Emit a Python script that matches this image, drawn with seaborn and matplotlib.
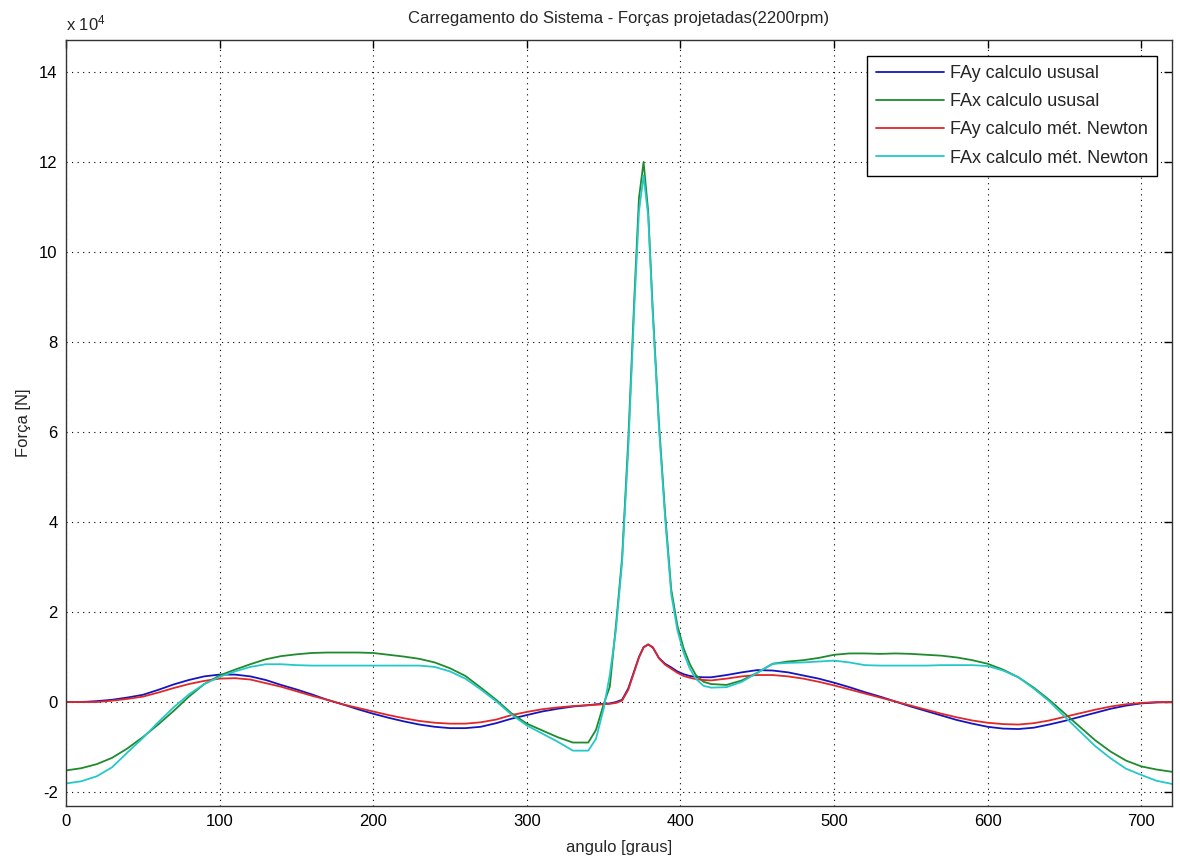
import matplotlib
matplotlib.use("Agg")
import matplotlib.pyplot as plt
import seaborn as sns
import pandas as pd
import numpy as np

# ---- data (forces in units of 1e4 N) ----
angle = [0, 10, 20, 30, 40, 50, 60, 70, 80, 90, 100, 110, 120, 130, 140, 150, 160, 170, 180, 190,
         200, 210, 220, 230, 240, 250, 260, 270, 280, 290, 300, 310, 320, 330, 340, 345, 350, 354,
         358, 362, 366, 370, 373, 376, 379, 382, 386, 390, 394, 398, 402, 406, 410, 415, 420, 430,
         440, 450, 460, 470, 480, 490, 500, 510, 520, 530, 540, 550, 560, 570, 580, 590, 600, 610,
         620, 630, 640, 650, 660, 670, 680, 690, 700, 710, 720]

fay_usual = [0.0, 0.0, 0.02, 0.05, 0.10, 0.16, 0.27, 0.39, 0.49, 0.57, 0.61, 0.61, 0.57, 0.49, 0.38,
             0.28, 0.17, 0.05, -0.05, -0.16, -0.26, -0.35, -0.43, -0.50, -0.55, -0.58, -0.58, -0.55,
             -0.47, -0.37, -0.29, -0.21, -0.15, -0.10, -0.07, -0.05, -0.04, -0.03, 0.0, 0.05, 0.30,
             0.70, 1.00, 1.22, 1.28, 1.21, 0.98, 0.85, 0.77, 0.68, 0.62, 0.58, 0.56, 0.55, 0.55, 0.60,
             0.66, 0.71, 0.70, 0.66, 0.59, 0.52, 0.43, 0.33, 0.22, 0.12, 0.01, -0.10, -0.20, -0.30,
             -0.40, -0.48, -0.55, -0.59, -0.60, -0.57, -0.50, -0.42, -0.33, -0.24, -0.15, -0.08,
             -0.03, -0.01, 0.0]

fax_usual = [-1.52, -1.47, -1.38, -1.24, -1.03, -0.78, -0.50, -0.20, 0.12, 0.40, 0.59, 0.72, 0.84,
             0.95, 1.02, 1.06, 1.09, 1.10, 1.10, 1.10, 1.09, 1.05, 1.01, 0.96, 0.88, 0.75, 0.58, 0.32,
             0.05, -0.25, -0.48, -0.63, -0.78, -0.90, -0.90, -0.62, -0.05, 0.34, 1.70, 3.20, 5.80,
             9.00, 11.20, 12.00, 10.90, 8.70, 6.20, 4.20, 2.50, 1.70, 1.20, 0.85, 0.60, 0.45, 0.40,
             0.38, 0.48, 0.65, 0.85, 0.90, 0.93, 0.98, 1.05, 1.08, 1.08, 1.07, 1.08, 1.07, 1.05, 1.03,
             0.99, 0.93, 0.85, 0.72, 0.55, 0.32, 0.05, -0.25, -0.55, -0.85, -1.10, -1.30, -1.43,
             -1.50, -1.55]

fay_newton = [0.0, 0.0, 0.0, 0.03, 0.07, 0.12, 0.21, 0.31, 0.40, 0.47, 0.52, 0.53, 0.50, 0.42, 0.34,
              0.24, 0.14, 0.05, -0.05, -0.13, -0.21, -0.29, -0.36, -0.42, -0.46, -0.48, -0.48, -0.45,
              -0.39, -0.29, -0.22, -0.16, -0.12, -0.09, -0.07, -0.06, -0.05, -0.04, -0.02, 0.03, 0.27,
              0.68, 0.99, 1.21, 1.28, 1.22, 0.97, 0.83, 0.74, 0.65, 0.58, 0.54, 0.51, 0.49, 0.48, 0.52,
              0.57, 0.60, 0.60, 0.57, 0.52, 0.45, 0.37, 0.28, 0.19, 0.10, 0.01, -0.08, -0.17, -0.26,
              -0.34, -0.41, -0.46, -0.49, -0.50, -0.47, -0.41, -0.33, -0.25, -0.17, -0.10, -0.05,
              -0.02, 0.0, 0.0]

fax_newton = [-1.81, -1.76, -1.65, -1.45, -1.12, -0.80, -0.45, -0.12, 0.17, 0.40, 0.56, 0.68, 0.78,
              0.84, 0.84, 0.82, 0.81, 0.81, 0.81, 0.81, 0.81, 0.81, 0.81, 0.81, 0.78, 0.68, 0.52, 0.28,
              0.02, -0.28, -0.52, -0.70, -0.88, -1.08, -1.08, -0.82, -0.15, 0.60, 1.60, 3.10, 5.60,
              8.80, 10.90, 11.70, 10.80, 8.60, 6.10, 4.10, 2.40, 1.60, 1.10, 0.75, 0.52, 0.36, 0.32,
              0.33, 0.45, 0.65, 0.85, 0.87, 0.88, 0.90, 0.92, 0.88, 0.82, 0.81, 0.81, 0.81, 0.81, 0.82,
              0.82, 0.82, 0.80, 0.70, 0.55, 0.30, 0.02, -0.32, -0.65, -0.98, -1.25, -1.48, -1.62,
              -1.75, -1.82]

series_names = ["FAy calculo ususal", "FAx calculo ususal",
                "FAy calculo mét. Newton", "FAx calculo mét. Newton"]
series_colors = ["#1515c0", "#1f8a2e", "#e02828", "#25c8c8"]

frames = []
for name, vals in zip(series_names, [fay_usual, fax_usual, fay_newton, fax_newton]):
    frames.append(pd.DataFrame({"angulo": angle, "forca": vals, "serie": name}))
df = pd.concat(frames, ignore_index=True)

# ---- style ----
sns.set_style("white")
plt.rcParams["font.family"] = ["Liberation Sans", "DejaVu Sans"]
plt.rcParams["mathtext.fontset"] = "custom"
plt.rcParams["mathtext.rm"] = "Liberation Sans"
plt.rcParams["mathtext.it"] = "Liberation Sans"
plt.rcParams["axes.unicode_minus"] = False

fig = plt.figure(figsize=(11.8, 8.63), dpi=100)
ax = fig.add_axes([66 / 1180, 1 - 806 / 863, (1172 - 66) / 1180, (806 - 40) / 863])

sns.lineplot(data=df, x="angulo", y="forca", hue="serie", hue_order=series_names,
             palette=dict(zip(series_names, series_colors)), sort=False,
             linewidth=1.3, ax=ax, legend=True)

ax.set_xlim(0, 720)
ax.set_ylim(-2.31, 14.71)
ax.set_xticks([0, 100, 200, 300, 400, 500, 600, 700])
ax.set_yticks([-2, 0, 2, 4, 6, 8, 10, 12, 14])
ax.grid(True, color="black", linestyle=(0, (1, 4)), linewidth=0.8)
ax.tick_params(direction="in", length=6, width=1.0, top=True, right=True,
               labelsize=12, colors="black", pad=6)
for s in ax.spines.values():
    s.set_color("#333333")
    s.set_linewidth(1.0)

ax.set_xlabel("angulo [graus]", fontsize=12, labelpad=8)
ax.set_ylabel("Força [N]", fontsize=12, labelpad=6)
ax.set_title("Carregamento do Sistema - Forças projetadas(2200rpm)", fontsize=12, pad=12)
ax.text(0.0, 1.008, r"x 10$^{4}$", transform=ax.transAxes, ha="left", va="bottom", fontsize=12)

leg = ax.legend(loc="upper right", bbox_to_anchor=(1 - 15 / 1106, 1 - 16 / 766), fontsize=13,
                frameon=True, fancybox=False, framealpha=1, edgecolor="black",
                handlelength=3.8, handletextpad=0.3, borderpad=0.5, labelspacing=0.62,
                borderaxespad=0.0, title=None)
leg.get_frame().set_linewidth(1.0)

fig.savefig("out.png", dpi=100)
